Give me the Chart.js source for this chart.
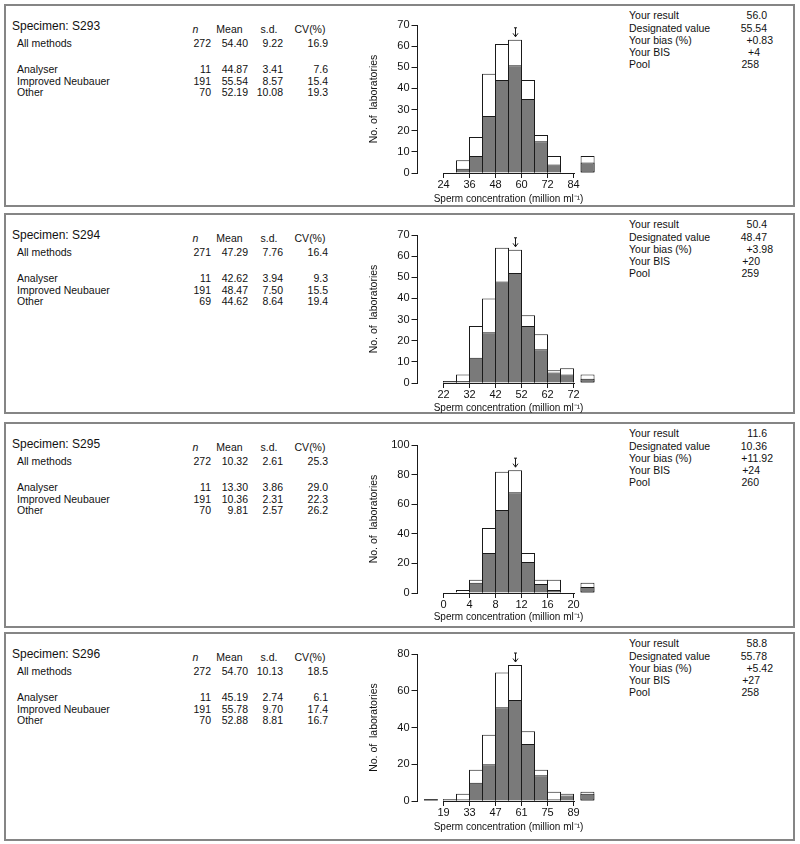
<!DOCTYPE html>
<html><head><meta charset="utf-8">
<script src="https://cdn.jsdelivr.net/npm/chart.js@4.4.0/dist/chart.umd.min.js"></script>
<style>
html,body{margin:0;padding:0;background:#fff;}
#page{position:relative;width:800px;height:844px;overflow:hidden;font-family:"Liberation Sans",Arial,Helvetica,sans-serif;color:#111;}
.panel{position:absolute;left:4px;width:791px;box-sizing:border-box;border:2px solid #858585;}
.t{position:absolute;white-space:nowrap;line-height:1.2;}
canvas{position:absolute;}
</style></head><body><div id="page"></div>
<script>
// ---------- table data ----------
const specimens = ['S293', 'S294', 'S295', 'S296'];
const methodNames = ['All methods', 'Analyser', 'Improved Neubauer', 'Other'];
const tableN = [[272, 11, 191, 70], [271, 11, 191, 69], [272, 11, 191, 70], [272, 11, 191, 70]];
const tableMean = [[54.40, 44.87, 55.54, 52.19], [47.29, 42.62, 48.47, 44.62], [10.32, 13.30, 10.36, 9.81], [54.70, 45.19, 55.78, 52.88]];
const tableSD = [[9.22, 3.41, 8.57, 10.08], [7.76, 3.94, 7.50, 8.64], [2.61, 3.86, 2.31, 2.57], [10.13, 2.74, 9.70, 8.81]];
const tableCV = [[16.9, 7.6, 15.4, 19.3], [16.4, 9.3, 15.5, 19.4], [25.3, 29.0, 22.3, 26.2], [18.5, 6.1, 17.4, 16.7]];

// ---------- result box data ----------
const resultLabels = ['Your result', 'Designated value', 'Your bias (%)', 'Your BIS', 'Pool'];
const yourResult = [56.0, 50.4, 11.6, 58.8];
const designatedValue = [55.54, 48.47, 10.36, 55.78];
const yourBias = ['+0.83', '+3.98', '+11.92', '+5.42'];
const yourBIS = ['+4', '+20', '+24', '+27'];
const pool = [258, 259, 260, 258];

// ---------- histogram data ----------
const xTicks = [[24, 36, 48, 60, 72, 84], [22, 32, 42, 52, 62, 72], [0, 4, 8, 12, 16, 20], [19, 33, 47, 61, 75, 89]];
const binWidth = [6, 5, 2, 7];
const binCenters = [
  [33, 39, 45, 51, 57, 63, 69, 75, 90.5],
  [24.5, 29.5, 34.5, 39.5, 44.5, 49.5, 54.5, 59.5, 64.5, 69.5, 77.4],
  [3, 5, 7, 9, 11, 13, 15, 17, 22.15],
  [12.2, 22.5, 29.5, 36.5, 43.5, 50.5, 57.5, 64.5, 71.5, 78.5, 85.5, 96.5]
];
const allLabs = [
  [6, 17, 47, 61, 63, 44, 18, 8, 8],
  [1, 4, 27, 40, 64, 63, 32, 23, 6, 7, 4],
  [2, 9, 44, 82, 83, 27, 9, 9, 7],
  [1, 1, 4, 17, 36, 70, 74, 38, 17, 5, 4, 5]
];
const neubauerLabs = [
  [2, 8, 27, 44, 51, 35, 15, 4, 5],
  [1, 1, 12, 24, 48, 52, 27, 16, 5, 4, 2],
  [0, 7, 27, 56, 68, 21, 6, 2, 4],
  [1, 1, 1, 10, 20, 51, 55, 31, 14, 1, 3, 4]
];
const yMax = [70, 70, 100, 80];
const yStep = [10, 10, 20, 20];
const yTitle = 'No. of  laboratories';
const xTitle = 'Sperm concentration (million ml\u207B\u00B9)';

// ---------- layout ----------
const panelTop = [4, 213, 422, 632];
const panelBottom = [207, 414, 628, 841];
const chartTop = [21, 22, 23, 22];
const chartBottom = [169, 170, 171, 169];
const CANVAS_W = 250, CANVAS_H = 205, CANVAS_LEFT = 360;

const page = document.getElementById('page');
function place(txt, x, y, align, size, extra) {
  const d = document.createElement('div');
  d.className = 't';
  d.textContent = txt;
  d.style.fontSize = size + 'px';
  d.style.top = (y - 0.6 * size) + 'px';
  if (align === 'right') { d.style.right = (800 - x) + 'px'; }
  else if (align === 'center') { d.style.left = x + 'px'; d.style.transform = 'translateX(-50%)'; }
  else { d.style.left = x + 'px'; }
  if (extra) Object.assign(d.style, extra);
  page.appendChild(d);
}

Chart.defaults.font.family = '"Liberation Sans", Arial, Helvetica, sans-serif';
Chart.defaults.color = '#111';

const histPlugin = {
  id: 'histDecor',
  afterDatasetsDraw(chart) {
    const o = chart.options.plugins.histDecor;
    const xs = chart.scales.x, ys = chart.scales.y, ctx = chart.ctx;
    ctx.save();
    ctx.strokeStyle = '#1a1a1a';
    ctx.lineWidth = 1;
    // x axis line from first to last tick
    const yy = Math.round(ys.getPixelForValue(0)) + 0.5;
    ctx.beginPath();
    ctx.moveTo(Math.floor(xs.getPixelForValue(o.from)), yy);
    ctx.lineTo(Math.ceil(xs.getPixelForValue(o.to)) + 1, yy);
    ctx.stroke();
    // arrow above the bin holding "your result"
    const c = o.from + (Math.floor((o.result - o.from) / o.bw) + 0.5) * o.bw;
    let tot = 0;
    o.centers.forEach((v, j) => { if (Math.abs(v - c) < 1e-6) tot = o.totals[j]; });
    const ax = Math.round(xs.getPixelForValue(c)) + 0.5;
    const tip = ys.getPixelForValue(tot) - 3;
    ctx.beginPath();
    ctx.moveTo(ax, tip - 9); ctx.lineTo(ax, tip);
    ctx.moveTo(ax - 2.5, tip - 3.5); ctx.lineTo(ax, tip); ctx.lineTo(ax + 2.5, tip - 3.5);
    ctx.moveTo(ax - 1.5, tip - 9); ctx.lineTo(ax + 1.5, tip - 9);
    ctx.stroke();
    ctx.restore();
  }
};

specimens.forEach((sp, i) => {
  const pt = panelTop[i];
  const p = document.createElement('div');
  p.className = 'panel';
  p.style.top = pt + 'px';
  p.style.height = (panelBottom[i] - pt) + 'px';
  page.appendChild(p);

  // left table
  place('Specimen: ' + sp, 12, pt + 22, 'left', 12);
  place('n', 195.5, pt + 25.5, 'center', 10.5, { fontStyle: 'italic' });
  place('Mean', 229.5, pt + 25.5, 'center', 10.5);
  place('s.d.', 269, pt + 25.5, 'center', 10.5);
  place('CV(%)', 310, pt + 25.5, 'center', 10.5);
  const rowY = [39.5, 65.5, 77, 88.5];
  methodNames.forEach((m, r) => {
    const y = pt + rowY[r];
    place(m, 17, y, 'left', 10.5);
    place(String(tableN[i][r]), 211, y, 'right', 10.5);
    place(tableMean[i][r].toFixed(2), 248, y, 'right', 10.5);
    place(tableSD[i][r].toFixed(2), 283, y, 'right', 10.5);
    place(tableCV[i][r].toFixed(1), 328, y, 'right', 10.5);
  });

  // right result box
  const vals = [yourResult[i].toFixed(1), designatedValue[i].toFixed(2), yourBias[i], yourBIS[i], String(pool[i])];
  const valRight = [767, 767, 773, 760, 759];
  const boxY = [11.5, 24, 36, 48, 60];
  resultLabels.forEach((l, r) => {
    place(l, 629, pt + boxY[r], 'left', 10.5);
    place(vals[r], valRight[r], pt + boxY[r], 'right', 10.5);
  });

  // histogram
  const cv = document.createElement('canvas');
  cv.width = CANVAS_W; cv.height = CANVAS_H;
  cv.style.width = CANVAS_W + 'px'; cv.style.height = CANVAS_H + 'px';
  cv.style.left = CANVAS_LEFT + 'px'; cv.style.top = pt + 'px';
  page.appendChild(cv);

  const bw = binWidth[i];
  const first = xTicks[i][0], last = xTicks[i][xTicks[i].length - 1];
  const xMin = first - 2 * bw, xMax = xMin + 14 * bw;
  const skip = (ctx) => {
    const v = ctx.raw ? ctx.raw.x : first;
    return (v < first || v > last) ? false : 'start';
  };
  const common = {
    grouped: false, barThickness: 14, borderColor: '#1a1a1a', borderWidth: 1,
    inflateAmount: 0, borderSkipped: skip
  };
  new Chart(cv, {
    type: 'bar',
    data: {
      datasets: [
        Object.assign({ label: 'Improved Neubauer', order: 0, backgroundColor: '#7a7a7a',
          data: binCenters[i].map((x, j) => ({ x, y: neubauerLabs[i][j] })) }, common),
        Object.assign({ label: 'All methods', order: 1, backgroundColor: '#ffffff',
          data: binCenters[i].map((x, j) => ({ x, y: allLabs[i][j] })) }, common)
      ]
    },
    options: {
      responsive: false, animation: false, devicePixelRatio: 1,
      layout: { padding: { left: 0.5, right: CANVAS_W - 0.5 - 57 - 182, top: chartTop[i], bottom: 0 } },
      plugins: {
        legend: { display: false }, tooltip: { enabled: false },
        histDecor: { from: first, to: last, bw, result: yourResult[i], centers: binCenters[i], totals: allLabs[i] }
      },
      scales: {
        x: {
          type: 'linear', min: xMin, max: xMax, offset: false,
          grid: { display: true, drawOnChartArea: false, drawTicks: true, tickLength: 5, color: '#1a1a1a', offset: false },
          border: { display: false },
          ticks: { font: { size: 11 }, color: '#111', padding: 0, autoSkip: false, maxRotation: 0 },
          afterBuildTicks: (s) => { s.ticks = xTicks[i].map(v => ({ value: v })); },
          afterFit: (s) => { s.height = CANVAS_H - chartBottom[i]; },
          title: { display: true, text: xTitle, font: { size: 10 }, color: '#111', padding: { top: 0, bottom: 4 } }
        },
        y: {
          min: 0, max: yMax[i],
          ticks: { stepSize: yStep[i], font: { size: 11 }, color: '#111', padding: 2 },
          grid: { drawOnChartArea: false, tickLength: 6, color: '#1a1a1a' },
          border: { display: true, color: '#1a1a1a', width: 1 },
          afterFit: (s) => { s.width = 57; },
          title: { display: true, text: yTitle, font: { size: 10.5 }, color: '#111', padding: { top: 7, bottom: 0 } }
        }
      }
    },
    plugins: [histPlugin]
  });
});
</script></body></html>
